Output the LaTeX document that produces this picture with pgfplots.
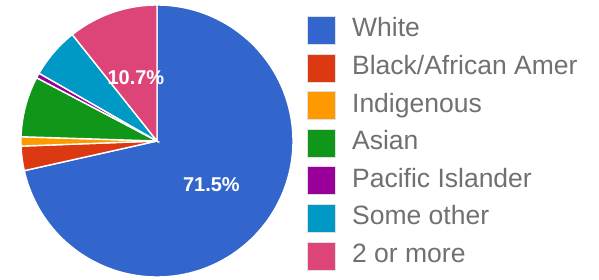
\documentclass[border=0pt]{standalone}
\usepackage{pgfplots}
\pgfplotsset{compat=1.18}
\usepackage{fontspec}
\setmainfont{Liberation Sans}
\definecolor{cWhite}{HTML}{3366CC}
\definecolor{cBlack}{HTML}{DC3912}
\definecolor{cInd}{HTML}{FF9900}
\definecolor{cAsian}{HTML}{109618}
\definecolor{cPac}{HTML}{990099}
\definecolor{cOther}{HTML}{0099C6}
\definecolor{cTwo}{HTML}{DD4477}
\definecolor{legtext}{HTML}{707070}
\begin{document}
\begin{tikzpicture}[x=1pt,y=1pt]
\path[use as bounding box] (0,0) rectangle (599,279);
\begin{axis}[
  at={(157pt,138pt)}, anchor=center,
  hide axis, scale only axis, width=272pt, height=272pt,
  xmin=-1, xmax=1, ymin=-1, ymax=1, clip=false,
  every axis plot/.append style={draw=white, line width=1.4pt},
  legend style={at={(1.052,0.960)}, anchor=north west, draw=none, fill=none,
    inner sep=0pt, row sep=8.8pt,
    font=\fontsize{26.5}{30}\selectfont\color{legtext},
    nodes={inner sep=0pt, text height=19pt, text depth=6pt},
    /tikz/every odd column/.append style={column sep=16pt}},
  legend cell align=left,
  legend image code/.code={%
    \draw[#1, draw=black!12, line width=0.8pt] (0pt,-14pt) rectangle (28pt,14pt);},
]
\addplot[fill=cWhite, domain=0:71.5, samples=150] ({sin(3.6*x)},{cos(3.6*x)}) -- (0,0) -- cycle;
\addlegendentry{White}
\addplot[fill=cBlack, domain=71.5:74.4, samples=10] ({sin(3.6*x)},{cos(3.6*x)}) -- (0,0) -- cycle;
\addlegendentry{Black/African Amer}
\addplot[fill=cInd, domain=74.4:75.5, samples=5] ({sin(3.6*x)},{cos(3.6*x)}) -- (0,0) -- cycle;
\addlegendentry{Indigenous}
\addplot[fill=cAsian, domain=75.5:82.7, samples=20] ({sin(3.6*x)},{cos(3.6*x)}) -- (0,0) -- cycle;
\addlegendentry{Asian}
\addplot[fill=cPac, domain=82.7:83.3, samples=4] ({sin(3.6*x)},{cos(3.6*x)}) -- (0,0) -- cycle;
\addlegendentry{Pacific Islander}
\addplot[fill=cOther, domain=83.3:89.3, samples=20] ({sin(3.6*x)},{cos(3.6*x)}) -- (0,0) -- cycle;
\addlegendentry{Some other}
\addplot[fill=cTwo, domain=89.3:100, samples=30] ({sin(3.6*x)},{cos(3.6*x)}) -- (0,0) -- cycle;
\addlegendentry{2 or more}
\node[text=white, font=\fontsize{20}{24}\selectfont\bfseries] at (0.40,-0.32) {71.5\%};
\node[text=white, font=\fontsize{20}{24}\selectfont\bfseries] at (-0.155,0.465) {10.7\%};
\end{axis}
\end{tikzpicture}
\end{document}
